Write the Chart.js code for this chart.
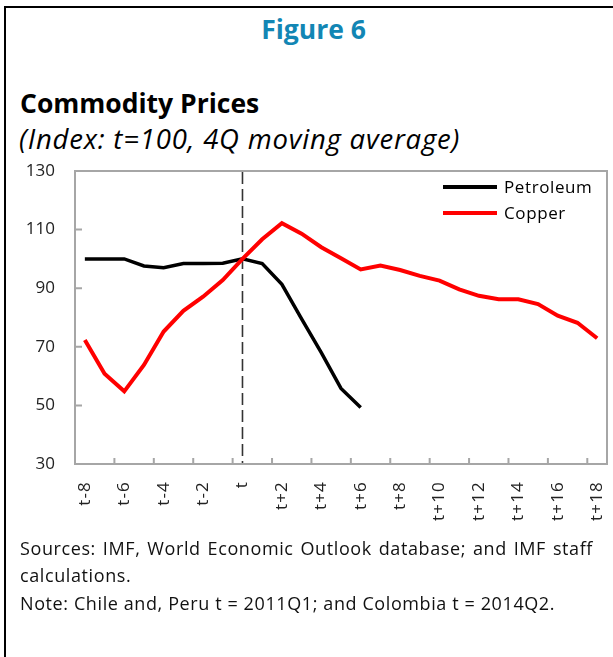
<!DOCTYPE html>
<html>
<head>
<meta charset="utf-8">
<script src="https://cdn.jsdelivr.net/npm/chart.js@4"></script>
<style>
  html, body { margin: 0; padding: 0; background: #fff; }
  body { width: 613px; height: 657px; position: relative; overflow: hidden; font-family: "Open Sans", "Noto Sans", sans-serif; color: #000; }
  .frameTop { position: absolute; left: 4px; top: 6px; width: 609px; height: 2px; background: #000; }
  .frameLeft { position: absolute; left: 4px; top: 6px; width: 2px; height: 651px; background: #000; }
  #fig { position: absolute; left: 7px; width: 613px; top: 11px; text-align: center; font-weight: bold; font-size: 26.5px; line-height: 36px; color: #1286b4; }
  #title { position: absolute; left: 20px; top: 85px; font-weight: bold; font-size: 26.5px; white-space: nowrap; }
  #subtitle { position: absolute; left: 19px; top: 120px; font-style: italic; font-size: 27.5px; letter-spacing: 0.8px; white-space: nowrap; }
  #wrap { position: absolute; left: 0; top: 150px; width: 613px; height: 394px; }
  .leg { position: absolute; left: 443px; width: 54px; height: 4px; }
  .legt { position: absolute; left: 504px; font-size: 17px; line-height: 20px; color: #000; letter-spacing: 0.6px; }
  #notes { position: absolute; left: 20px; top: 535px; width: 573px; font-size: 18px; line-height: 27px; letter-spacing: 0.6px; color: #111; }
  #notes p { margin: 0; }
  .just { text-align: justify; text-align-last: justify; }
</style>
</head>
<body>
<div class="frameTop"></div>
<div class="frameLeft"></div>
<div id="fig">Figure 6</div>
<div id="title">Commodity Prices</div>
<div id="subtitle">(Index: t=100, 4Q moving average)</div>
<div id="wrap"><canvas id="c" width="613" height="394"></canvas></div>
<div class="leg" style="top:185px;background:#000;"></div>
<div class="legt" style="top:177px;">Petroleum</div>
<div class="leg" style="top:211px;background:#ff0000;"></div>
<div class="legt" style="top:203px;">Copper</div>
<div id="notes">
  <p class="just">Sources: IMF, World Economic Outlook database; and IMF staff</p>
  <p>calculations.</p>
  <p style="margin-top:1px;">Note: Chile and, Peru t = 2011Q1; and Colombia t = 2014Q2.</p>
</div>
<script>
const categories = ["t-8","t-7","t-6","t-5","t-4","t-3","t-2","t-1","t","t+1","t+2","t+3","t+4","t+5","t+6","t+7","t+8","t+9","t+10","t+11","t+12","t+13","t+14","t+15","t+16","t+17","t+18"];
const petroleum = [100,100,100,97.6,97,98.4,98.4,98.5,100,98.4,91.3,79.5,68,55.8,49.3,null,null,null,null,null,null,null,null,null,null,null,null];
const copper = [72.3,60.8,54.8,63.8,75.2,82.3,87.1,92.8,100,106.7,112.2,108.6,104,100.2,96.4,97.7,96.2,94.2,92.6,89.6,87.4,86.2,86.2,84.6,80.6,78.2,72.9];
const yMin = 30, yMax = 130, yStep = 20;
const markerCategory = "t";

const boxPlugin = {
  id: 'boxPlugin',
  afterUpdate(chart) {
    const s = chart.scales.x;
    if (!s._lsWrapped) {
      const orig = s.drawLabels.bind(s);
      s.drawLabels = function(area) {
        const ctx = this.ctx;
        ctx.save();
        ctx.letterSpacing = '1.2px';
        orig(area);
        ctx.restore();
      };
      s._lsWrapped = true;
    }
  },
  beforeDatasetsDraw(chart) {
    const ctx = chart.ctx, a = chart.chartArea, xs = chart.scales.x;
    ctx.save();
    const xm = xs.getPixelForValue(categories.indexOf(markerCategory));
    ctx.strokeStyle = '#333';
    ctx.lineWidth = 1.6;
    ctx.setLineDash([12, 5]);
    ctx.beginPath();
    ctx.moveTo(xm, a.top + 1);
    ctx.lineTo(xm, a.bottom - 1);
    ctx.stroke();
    ctx.restore();
  },
  afterDraw(chart) {
    const ctx = chart.ctx, a = chart.chartArea, xs = chart.scales.x, ys = chart.scales.y;
    ctx.save();
    ctx.strokeStyle = '#a6a6a6';
    ctx.lineWidth = 2;
    ctx.strokeRect(a.left, a.top, a.right - a.left, a.bottom - a.top);
    const half = (xs.getPixelForValue(1) - xs.getPixelForValue(0)) / 2;
    ctx.beginPath();
    for (let i = 2; i < categories.length; i += 2) {
      const x = xs.getPixelForValue(i) - half;
      ctx.moveTo(x, a.bottom);
      ctx.lineTo(x, a.bottom - 6);
    }
    for (let v = yMin + yStep; v < yMax; v += yStep) {
      const y = ys.getPixelForValue(v);
      ctx.moveTo(a.left, y);
      ctx.lineTo(a.left + 7, y);
    }
    ctx.stroke();
    ctx.restore();
  }
};

new Chart(document.getElementById('c'), {
  type: 'line',
  data: {
    labels: categories,
    datasets: [
      { label: 'Petroleum', data: petroleum, borderColor: '#000', backgroundColor: '#000', borderWidth: 3.5, pointRadius: 0, tension: 0, order: 2 },
      { label: 'Copper', data: copper, borderColor: '#ff0000', backgroundColor: '#ff0000', borderWidth: 4, pointRadius: 0, tension: 0, order: 1 }
    ]
  },
  options: {
    responsive: false,
    animation: false,
    devicePixelRatio: 1,
    layout: { padding: { left: 20, right: 6, top: 21, bottom: 0 } },
    plugins: { legend: { display: false }, tooltip: { enabled: false }, title: { display: false } },
    scales: {
      x: {
        type: 'category',
        offset: true,
        grid: { display: false, drawTicks: false },
        border: { display: false },
        ticks: {
          autoSkip: false, maxRotation: 90, minRotation: 90, padding: 17,
          color: '#222', font: { family: '"Open Sans", sans-serif', size: 17 },
          callback: function(v, i) { return i % 2 === 0 ? categories[i] : ''; }
        },
        afterFit(s) { s.height = 80; s.paddingLeft = 0; s.paddingRight = 0; }
      },
      y: {
        min: yMin, max: yMax,
        grid: { display: false, drawTicks: false },
        border: { display: false },
        ticks: { stepSize: yStep, padding: 20, color: '#222', font: { family: '"Open Sans", sans-serif', size: 17 } },
        afterFit(s) { s.width = 55; s.paddingTop = 0; s.paddingBottom = 0; }
      }
    }
  },
  plugins: [boxPlugin]
});
</script>
</body>
</html>
